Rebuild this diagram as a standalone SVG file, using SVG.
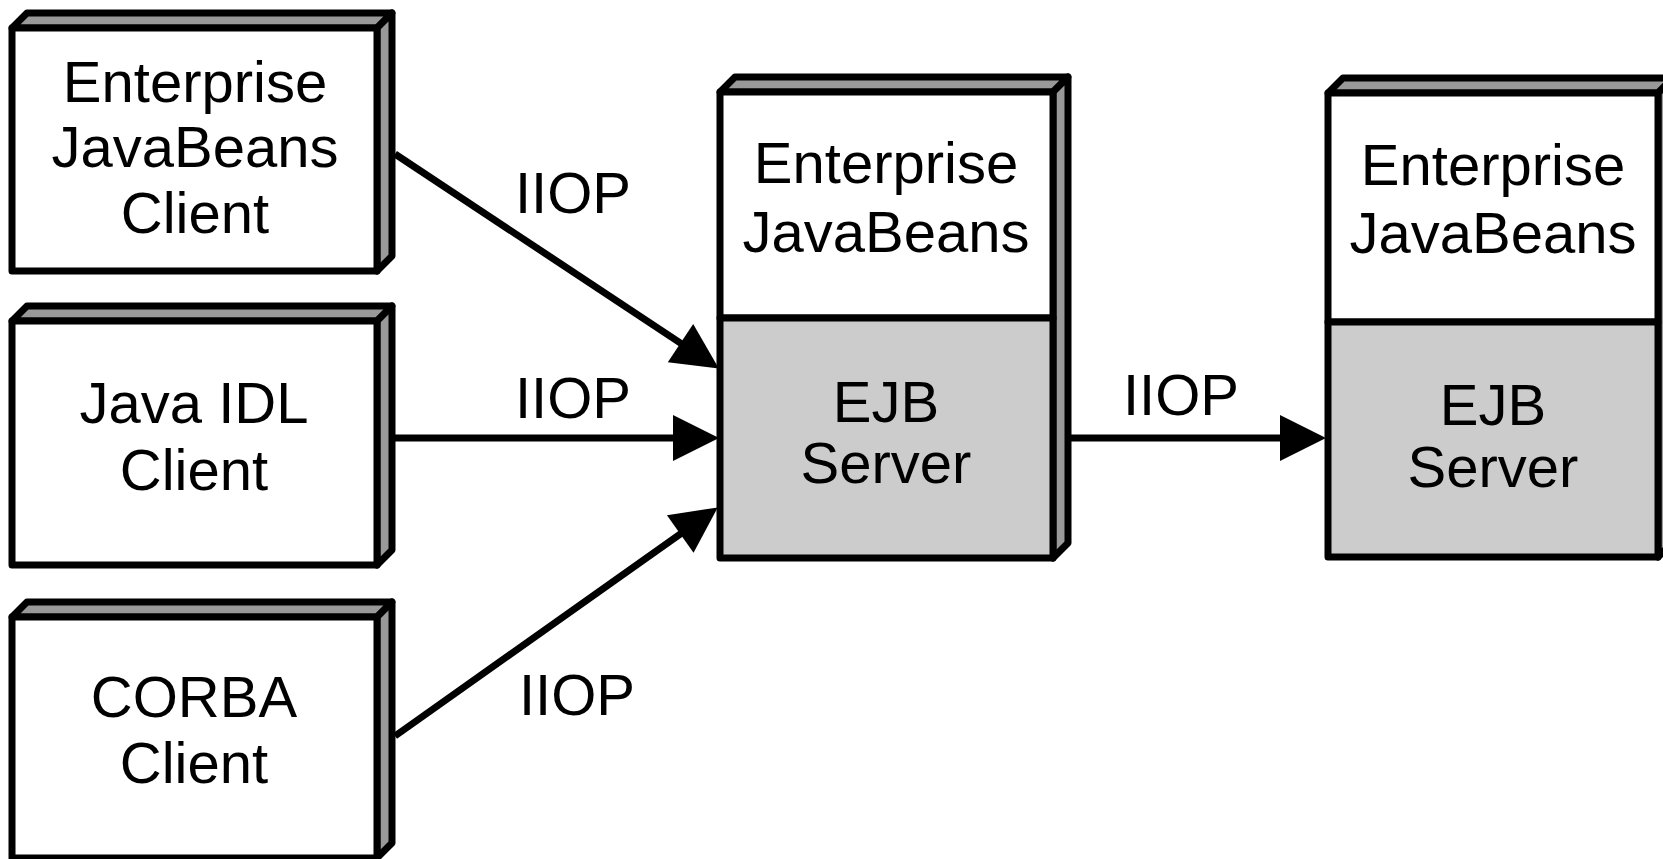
<svg xmlns="http://www.w3.org/2000/svg" width="1663" height="859" viewBox="0 0 1663 859">
  <style>
    .face { fill: #ffffff; stroke: #000; stroke-width: 7; stroke-linejoin: round; }
    .srv { fill: #cccccc; stroke: #000; stroke-width: 7; stroke-linejoin: round; }
    .depth { fill: #999999; stroke: #000; stroke-width: 7; stroke-linejoin: round; }
    .lbl { font-family: "Liberation Sans", Arial, sans-serif; font-size: 58px; fill: #000; text-anchor: middle; }
    .edge { stroke: #000; stroke-width: 7; fill: none; marker-end: url(#arrow); }
  </style>
  <defs>
    <marker id="arrow" markerUnits="userSpaceOnUse" markerWidth="48" markerHeight="48" refX="15" refY="23" orient="auto" overflow="visible">
      <path d="M0,0 L46,23 L0,46 z" fill="#000"/>
    </marker>
  </defs>
  <rect width="1663" height="859" fill="#ffffff"/>

  <g id="ejb-client">
    <polygon class="depth" points="12,28 27,13 392,13 377,28"/>
    <polygon class="depth" points="377,28 392,13 392,256 377,271"/>
    <rect class="face" x="12" y="28" width="365" height="243"/>
    <text class="lbl" x="195" y="102">Enterprise</text>
    <text class="lbl" x="195" y="167">JavaBeans</text>
    <text class="lbl" x="195" y="233">Client</text>
  </g>

  <g id="idl-client">
    <polygon class="depth" points="12,321 27,306 392,306 377,321"/>
    <polygon class="depth" points="377,321 392,306 392,550 377,565"/>
    <rect class="face" x="12" y="321" width="365" height="244"/>
    <text class="lbl" x="194" y="423">Java IDL</text>
    <text class="lbl" x="194" y="490">Client</text>
  </g>

  <g id="corba-client">
    <polygon class="depth" points="12,617 27,602 392,602 377,617"/>
    <polygon class="depth" points="377,617 392,602 392,843 377,858"/>
    <rect class="face" x="12" y="617" width="365" height="241"/>
    <text class="lbl" x="194" y="717">CORBA</text>
    <text class="lbl" x="194" y="783">Client</text>
  </g>

  <g id="ejb-server-1">
    <polygon class="depth" points="720,92 735,77 1068,77 1053,92"/>
    <polygon class="depth" points="1053,92 1068,77 1068,543 1053,558"/>
    <rect class="face" x="720" y="92" width="333" height="226"/>
    <rect class="srv" x="720" y="318" width="333" height="240"/>
    <text class="lbl" x="886" y="183">Enterprise</text>
    <text class="lbl" x="886" y="252">JavaBeans</text>
    <text class="lbl" x="886" y="422">EJB</text>
    <text class="lbl" x="886" y="483">Server</text>
  </g>

  <g id="ejb-server-2">
    <polygon class="depth" points="1328,93 1343,78 1673,78 1658,93"/>
    <polygon class="depth" points="1658,93 1673,78 1673,542 1658,557"/>
    <rect class="face" x="1328" y="93" width="330" height="229"/>
    <rect class="srv" x="1328" y="322" width="330" height="235"/>
    <text class="lbl" x="1493" y="185">Enterprise</text>
    <text class="lbl" x="1493" y="253">JavaBeans</text>
    <text class="lbl" x="1493" y="425">EJB</text>
    <text class="lbl" x="1493" y="487">Server</text>
  </g>

  <g id="connectors">
    <line class="edge" x1="395" y1="154" x2="693" y2="351.4"/>
    <line class="edge" x1="395" y1="438" x2="688" y2="438"/>
    <line class="edge" x1="395" y1="736" x2="692.5" y2="525.3"/>
    <line class="edge" x1="1071" y1="438" x2="1295" y2="438"/>
    <text class="lbl" x="573" y="213">IIOP</text>
    <text class="lbl" x="573" y="418">IIOP</text>
    <text class="lbl" x="577" y="715">IIOP</text>
    <text class="lbl" x="1181" y="415">IIOP</text>
  </g>
</svg>
